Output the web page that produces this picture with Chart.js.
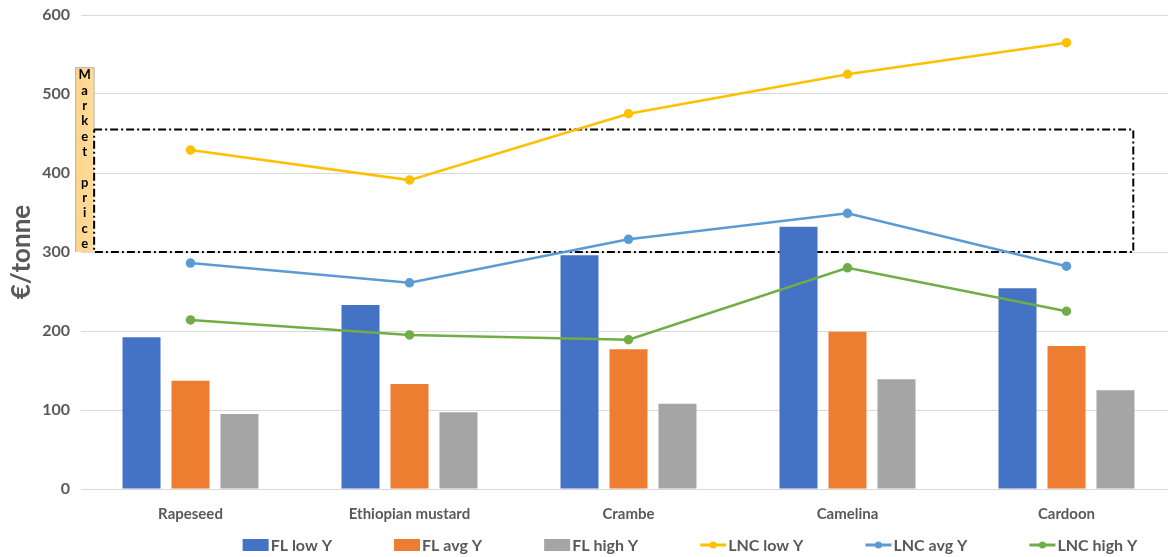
<!DOCTYPE html>
<html>
<head>
<meta charset="utf-8">
<script src="https://cdn.jsdelivr.net/npm/chart.js@4.4.1/dist/chart.umd.min.js"></script>
<style>
  html, body { margin: 0; padding: 0; background: #fff; overflow: hidden; }
  #wrap { position: relative; width: 1182px; height: 557px; }
</style>
</head>
<body>
<div id="wrap"><canvas id="chart" width="1182" height="557"></canvas></div>
<script>
// Crops and cost series (€/tonne)
const categories = ['Rapeseed', 'Ethiopian mustard', 'Crambe', 'Camelina', 'Cardoon'];
const flLowY  = [192, 233, 296, 332, 254];
const flAvgY  = [137, 133, 177, 199, 181];
const flHighY = [95, 97, 108, 139, 125];
const lncLowY  = [429, 391, 475, 525, 565];
const lncAvgY  = [286, 261, 316, 349, 282];
const lncHighY = [214, 195, 189, 280, 225];

// Axis range and market price band
const yMin = 0, yMax = 600, yStep = 100;
const marketPriceLow = 300;
const marketPriceHigh = 455;
const marketPriceLabel = 'Market price';
const marketLabelTop = 534;
const yTitle = '€/tonne';

const FONT = 'Lato, "Open Sans", sans-serif';
const GREY_TEXT = '#595959';

// Dash-dot band marking the market price range, with its vertical caption
const marketBandPlugin = {
  id: 'marketBand',
  beforeDatasetsDraw(chart) {
    const { ctx, scales: { x, y } } = chart;
    const catW = x.getPixelForValue(1) - x.getPixelForValue(0);
    const left = x.getPixelForValue(0) - catW * 0.44;
    const right = x.getPixelForValue(4) + catW * 0.305;
    const top = y.getPixelForValue(marketPriceHigh);
    const bottom = y.getPixelForValue(marketPriceLow);
    const labTop = y.getPixelForValue(marketLabelTop);
    const labLeft = left - 19;

    ctx.save();
    // caption box
    const g = ctx.createLinearGradient(labLeft, 0, left, 0);
    g.addColorStop(0, '#fdd48a');
    g.addColorStop(1, '#ffdc9c');
    ctx.fillStyle = g;
    ctx.fillRect(labLeft, labTop, left - labLeft, bottom - labTop);
    ctx.strokeStyle = '#b4b4b4';
    ctx.lineWidth = 1;
    ctx.beginPath();
    ctx.moveTo(labLeft + 0.5, bottom);
    ctx.lineTo(labLeft + 0.5, labTop + 0.5);
    ctx.lineTo(left, labTop + 0.5);
    ctx.lineTo(left, top);
    ctx.stroke();

    ctx.fillStyle = '#000';
    ctx.font = 'bold 13px ' + FONT;
    ctx.textAlign = 'center';
    ctx.textBaseline = 'middle';
    const chars = marketPriceLabel.split('');
    const step = (bottom - labTop - 16) / (chars.length - 1);
    chars.forEach((c, i) => {
      ctx.fillText(c, (labLeft + left) / 2, labTop + 8 + i * step);
    });

    // dash-dot rectangle
    ctx.strokeStyle = '#000';
    ctx.lineWidth = 2;
    ctx.setLineDash([8, 3, 2, 3]);
    ctx.beginPath();
    ctx.moveTo(left, top);
    ctx.lineTo(right, top);
    ctx.lineTo(right, bottom);
    ctx.lineTo(left, bottom);
    ctx.lineTo(left, top);
    ctx.stroke();
    ctx.restore();
  }
};

// Legend row along the bottom
const bottomLegendPlugin = {
  id: 'bottomLegend',
  afterDraw(chart) {
    const { ctx } = chart;
    const ds = chart.data.datasets;
    const symW = 26, gapSym = 2, gapItem = 62;
    ctx.save();
    ctx.font = 'bold 16px ' + FONT;
    const widths = ds.map(d => symW + gapSym + ctx.measureText(d.label).width);
    const total = widths.reduce((a, b) => a + b, 0) + gapItem * (ds.length - 1);
    let xPos = 690 - total / 2;
    const yc = 545;
    ds.forEach((d, i) => {
      if (d.type === 'line') {
        ctx.strokeStyle = d.borderColor;
        ctx.lineWidth = 3;
        ctx.beginPath();
        ctx.moveTo(xPos, yc);
        ctx.lineTo(xPos + symW, yc);
        ctx.stroke();
        ctx.fillStyle = d.borderColor;
        ctx.beginPath();
        ctx.arc(xPos + symW / 2, yc, 3.5, 0, Math.PI * 2);
        ctx.fill();
      } else {
        ctx.fillStyle = d.backgroundColor;
        ctx.fillRect(xPos, yc - 6, symW, 12);
      }
      ctx.fillStyle = GREY_TEXT;
      ctx.textAlign = 'left';
      ctx.textBaseline = 'middle';
      ctx.fillText(d.label, xPos + symW + gapSym, yc + 1);
      xPos += widths[i] + gapItem;
    });
    ctx.restore();
  }
};

const barStyle = { categoryPercentage: 0.671, barPercentage: 0.776, order: 2, borderWidth: 0 };
const lineStyle = { type: 'line', order: 1, borderWidth: 2.5, pointRadius: 3.5, pointHoverRadius: 3.5, fill: false, tension: 0 };

new Chart(document.getElementById('chart'), {
  type: 'bar',
  data: {
    labels: categories,
    datasets: [
      { label: 'FL low Y',  data: flLowY,  backgroundColor: '#4472c4', ...barStyle },
      { label: 'FL avg Y',  data: flAvgY,  backgroundColor: '#ed7d31', ...barStyle },
      { label: 'FL high Y', data: flHighY, backgroundColor: '#a5a5a5', ...barStyle },
      { label: 'LNC low Y',  data: lncLowY,  borderColor: '#ffc000', backgroundColor: '#ffc000', ...lineStyle },
      { label: 'LNC avg Y',  data: lncAvgY,  borderColor: '#5b9bd5', backgroundColor: '#5b9bd5', ...lineStyle },
      { label: 'LNC high Y', data: lncHighY, borderColor: '#70ad47', backgroundColor: '#70ad47', ...lineStyle }
    ]
  },
  options: {
    responsive: false,
    maintainAspectRatio: false,
    animation: false,
    layout: { padding: { top: 0, right: 0, bottom: 0, left: 0 } },
    plugins: { legend: { display: false }, tooltip: { enabled: false } },
    scales: {
      x: {
        grid: { display: false, drawTicks: false },
        border: { display: true, color: '#d9d9d9', width: 1 },
        ticks: { color: GREY_TEXT, font: { family: FONT, size: 15, weight: 'bold' }, padding: 16, maxRotation: 0 },
        afterFit(s) { s.height = 68; }
      },
      y: {
        min: yMin, max: yMax,
        ticks: { stepSize: yStep, color: GREY_TEXT, font: { family: FONT, size: 16, weight: 'bold', lineHeight: 0.5 }, padding: 11 },
        grid: { color: '#d9d9d9', lineWidth: 1, drawTicks: false },
        border: { display: false },
        title: { display: true, text: yTitle, color: GREY_TEXT, font: { family: FONT, size: 26, weight: 'bold' }, padding: { top: 6, bottom: 0 } },
        afterFit(s) { s.width = 81; }
      }
    }
  },
  plugins: [marketBandPlugin, bottomLegendPlugin]
});
</script>
</body>
</html>
